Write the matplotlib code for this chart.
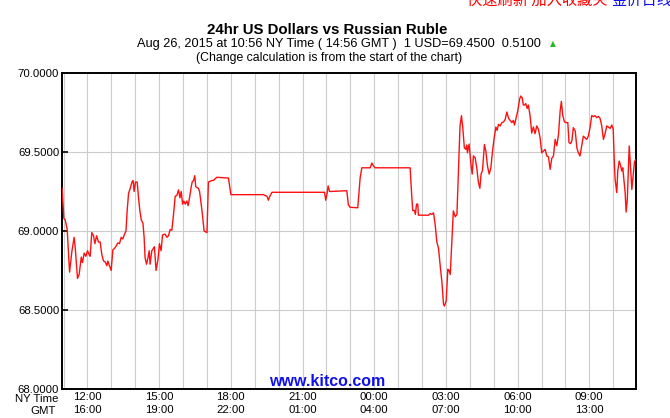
import matplotlib
matplotlib.use("Agg")
import matplotlib.pyplot as plt

# heures (horloge NY, 24 = minuit) et cours USD/RUB
heures = [
    10.94, 11.01, 11.07, 11.15, 11.25, 11.35, 11.44, 11.49, 11.58, 11.65,
    11.74, 11.79, 11.86, 11.93, 12.00, 12.07, 12.11, 12.18, 12.25, 12.31,
    12.38, 12.46, 12.53, 12.60, 12.67, 12.74, 12.81, 12.85, 12.92, 12.99,
    13.06, 13.13, 13.20, 13.27, 13.34, 13.41, 13.48, 13.55, 13.61, 13.66,
    13.72, 13.79, 13.86, 13.91, 13.95, 14.01, 14.08, 14.13, 14.19, 14.25,
    14.32, 14.37, 14.41, 14.47, 14.53, 14.58, 14.62, 14.69, 14.76, 14.80,
    14.87, 14.95, 15.01, 15.08, 15.14, 15.25, 15.32, 15.39, 15.46, 15.53,
    15.60, 15.67, 15.74, 15.81, 15.87, 15.92, 15.98, 16.03, 16.09, 16.16,
    16.21, 16.27, 16.33, 16.38, 16.44, 16.49, 16.53, 16.64, 16.69, 16.79,
    16.88, 17.00, 17.06, 17.21, 17.27, 17.34, 17.41, 17.90, 18.00, 19.36,
    19.51, 19.57, 19.63, 19.72, 21.92, 21.97, 22.03, 22.07, 22.13, 22.85,
    22.92, 22.99, 23.31, 23.41, 23.48, 23.83, 23.90, 23.97, 24.04, 25.50,
    25.57, 25.61, 25.68, 25.72, 25.77, 25.82, 25.85, 26.27, 26.34, 26.41,
    26.48, 26.55, 26.62, 26.69, 26.76, 26.83, 26.90, 26.94, 27.01, 27.08,
    27.13, 27.18, 27.25, 27.31, 27.39, 27.46, 27.52, 27.59, 27.65, 27.71,
    27.77, 27.83, 27.87, 27.90, 27.97, 28.04, 28.10, 28.15, 28.22, 28.29,
    28.36, 28.42, 28.47, 28.53, 28.61, 28.67, 28.74, 28.81, 28.88, 28.95,
    29.02, 29.09, 29.14, 29.20, 29.27, 29.34, 29.41, 29.48, 29.55, 29.62,
    29.69, 29.76, 29.82, 29.87, 29.94, 30.01, 30.08, 30.13, 30.19, 30.24,
    30.28, 30.34, 30.40, 30.45, 30.52, 30.59, 30.66, 30.73, 30.80, 30.87,
    30.94, 31.01, 31.08, 31.15, 31.22, 31.29, 31.36, 31.43, 31.50, 31.57,
    31.64, 31.71, 31.78, 31.83, 31.89, 31.96, 32.03, 32.10, 32.15, 32.21,
    32.27, 32.33, 32.41, 32.48, 32.54, 32.61, 32.69, 32.75, 32.82, 32.89,
    32.96, 33.03, 33.10, 33.17, 33.24, 33.31, 33.38, 33.45, 33.52, 33.59,
    33.66, 33.73, 33.80, 33.87, 33.94, 34.00, 34.05, 34.08, 34.15, 34.19,
    34.25, 34.30, 34.36, 34.40, 34.46, 34.50, 34.54, 34.59, 34.67, 34.71,
    34.78, 34.85, 34.89, 34.93,
]
cours = [
    69.27, 69.08, 69.07, 69.01, 68.74, 68.875, 68.96, 68.89, 68.70, 68.725,
    68.835, 68.80, 68.86, 68.84, 68.875, 68.85, 68.84, 68.99, 68.97, 68.92,
    68.97, 68.93, 68.93, 68.85, 68.81, 68.805, 68.78, 68.81, 68.78, 68.75,
    68.88, 68.89, 68.905, 68.925, 68.92, 68.96, 68.95, 68.98, 69.00, 69.13,
    69.24, 69.27, 69.31, 69.32, 69.25, 69.31, 69.31, 69.22, 69.13, 69.07,
    69.05, 68.96, 68.83, 68.79, 68.83, 68.875, 68.79, 68.875, 68.89, 68.90,
    68.75, 68.82, 68.92, 68.875, 68.975, 68.98, 68.96, 68.97, 69.01, 69.005,
    69.105, 69.22, 69.225, 69.26, 69.21, 69.25, 69.17, 69.19, 69.17, 69.19,
    69.16, 69.21, 69.27, 69.31, 69.32, 69.35, 69.28, 69.27, 69.25, 69.13,
    69.00, 68.99, 69.31, 69.32, 69.32, 69.33, 69.34, 69.335, 69.23, 69.23,
    69.22, 69.195, 69.22, 69.245, 69.245, 69.195, 69.24, 69.285, 69.25, 69.255,
    69.165, 69.15, 69.147, 69.337, 69.40, 69.40, 69.43, 69.41, 69.40, 69.40,
    69.22, 69.13, 69.13, 69.105, 69.17, 69.17, 69.10, 69.10, 69.11, 69.105,
    69.115, 69.04, 68.93, 68.89, 68.78, 68.68, 68.535, 68.525, 68.557, 68.757,
    68.75, 68.725, 68.937, 69.127, 69.09, 69.105, 69.36, 69.665, 69.73, 69.645,
    69.527, 69.517, 69.544, 69.495, 69.55, 69.43, 69.36, 69.475, 69.464, 69.40,
    69.306, 69.27, 69.36, 69.383, 69.548, 69.506, 69.41, 69.36, 69.40, 69.506,
    69.59, 69.658, 69.637, 69.675, 69.665, 69.686, 69.69, 69.706, 69.753, 69.713,
    69.70, 69.686, 69.70, 69.671, 69.717, 69.764, 69.833, 69.854, 69.844, 69.797,
    69.797, 69.806, 69.776, 69.797, 69.73, 69.62, 69.658, 69.616, 69.665, 69.644,
    69.59, 69.495, 69.506, 69.517, 69.475, 69.47, 69.39, 69.46, 69.475, 69.58,
    69.54, 69.61, 69.76, 69.82, 69.73, 69.69, 69.686, 69.686, 69.56, 69.553,
    69.57, 69.654, 69.633, 69.527, 69.495, 69.475, 69.548, 69.60, 69.59, 69.58,
    69.60, 69.654, 69.73, 69.724, 69.73, 69.717, 69.726, 69.713, 69.665, 69.58,
    69.616, 69.665, 69.658, 69.649, 69.671, 69.644, 69.42, 69.327, 69.243, 69.38,
    69.443, 69.42, 69.38, 69.40, 69.306, 69.243, 69.12, 69.20, 69.538, 69.443,
    69.263, 69.37, 69.437, 69.45,
]

pos_ticks = [12, 15, 18, 21, 24, 27, 30, 33]
labels_ny = ["12:00", "15:00", "18:00", "21:00", "00:00", "03:00", "06:00", "09:00"]
labels_gmt = ["16:00", "19:00", "22:00", "01:00", "04:00", "07:00", "10:00", "13:00"]
y_ticks = [68.0, 68.5, 69.0, 69.5, 70.0]

plt.rcParams["font.family"] = ["Liberation Sans", "DejaVu Sans"]

fig = plt.figure(figsize=(6.7, 4.18), dpi=100)
ax = fig.add_axes([62 / 670, 1 - 389 / 418, 573.5 / 670, 316 / 418])

# grille : toutes les heures en vertical
for h in range(11, 35):
    ax.axvline(h, color="#cccccc", lw=0.8, zorder=1)
for v in y_ticks[1:-1]:
    ax.axhline(v, color="#cccccc", lw=0.8, zorder=1)

ax.plot(heures, cours, color="#ff1010", lw=1.0, zorder=3)

ax.set_xlim(10.933, 34.933)
ax.set_ylim(68.0, 70.0)
ax.set_yticks(y_ticks)
ax.set_yticklabels([f"{v:.4f}" for v in y_ticks], fontsize=8.2)
ax.set_xticks(pos_ticks)
ax.set_xticklabels([f"{a}\n{b}" for a, b in zip(labels_ny, labels_gmt)],
                   fontsize=8.2, linespacing=1.3)
ax.tick_params(axis="x", length=0, pad=2.5)
ax.tick_params(axis="y", direction="in", length=4.5, width=1.2, pad=2)
for s in ax.spines.values():
    s.set_linewidth(1.4)

fig.text(59 / 670, 1 - 399 / 418, "NY Time", ha="right", va="center", fontsize=8.2)
fig.text(56 / 670, 1 - 411 / 418, "GMT", ha="right", va="center", fontsize=8.2)

fig.text(327 / 670, 1 - 30 / 418, "24hr US Dollars vs Russian Ruble",
         ha="center", va="center", fontsize=10.8, fontweight="bold")
fig.text(541 / 670, 1 - 44 / 418,
         "Aug 26, 2015 at 10:56 NY Time ( 14:56 GMT )  1 USD=69.4500  0.5100",
         ha="right", va="center", fontsize=9.2)
fig.text(553 / 670, 1 - 44 / 418, "\u25b2", color="#22bb22", ha="center",
         va="center", fontsize=5.5, family=["DejaVu Sans"])
fig.text(329 / 670, 1 - 58 / 418, "(Change calculation is from the start of the chart)",
         ha="center", va="center", fontsize=8.8)

fig.text(327 / 670, 1 - 381 / 418, "www.kitco.com", ha="center", va="center",
         fontsize=11.5, fontweight="bold", color="#1010ee")

fig.text(467 / 670, 1.0, "快速刷新 加入收藏夹", ha="left", va="center",
         fontsize=11, color="#ff0000", family=["Noto Sans CJK SC"])
fig.text(612 / 670, 1.0, "金价日线", ha="left", va="center",
         fontsize=11, color="#1010ee", family=["Noto Sans CJK SC"])

plt.savefig("out.png", dpi=100, facecolor="white")
